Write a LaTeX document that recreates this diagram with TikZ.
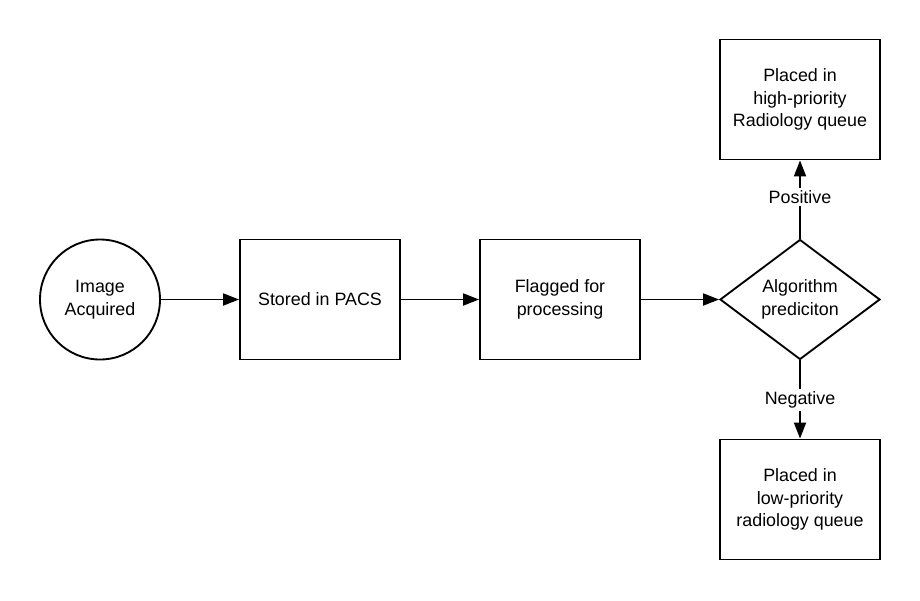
\documentclass[tikz,border=0pt]{standalone}
\usepackage{fontspec}
\setmainfont{Liberation Sans}
\usetikzlibrary{positioning,arrows.meta,shapes.geometric}
\tikzset{
  flowarrow/.style={-{Triangle[length=12pt, width=9pt]}, line width=1.4pt},
  startnode/.style={draw, circle, line width=1.4pt, minimum size=90pt, inner sep=0pt, align=center},
  procnode/.style={draw, line width=1.4pt, minimum width=120pt, minimum height=90pt, inner sep=2pt, align=center},
  decnode/.style={draw, diamond, aspect=1.333, line width=1.4pt, minimum width=120pt, minimum height=90pt, inner sep=0pt, align=center},
  edgelabel/.style={fill=white, inner sep=2pt}
}

\begin{document}
\begin{tikzpicture}[x=0.75pt, y=-0.75pt, every node/.style={font=\fontsize{13.4pt}{16.9pt}\selectfont}]
      \useasboundingbox (0,0) rectangle (920,600);
      \node[startnode] (acq) at (100,299.5) {Image\\Acquired};
      \node[procnode] (pacs) at (320,299.5) {Stored in PACS};
      \node[procnode] (flag) at (560,299.5) {Flagged for\\processing};
      \node[decnode] (algo) at (800,299.5) {Algorithm\\prediciton};
      \node[procnode] (high) at (800,99.5) {Placed in\\high-priority\\Radiology queue};
      \node[procnode] (low) at (800,499.5) {Placed in\\low-priority\\radiology queue};
      \draw[flowarrow] (acq) -- (pacs);
      \draw[flowarrow] (pacs) -- (flag);
      \draw[flowarrow] (flag) -- (algo);
      \draw[flowarrow] (algo) -- node[edgelabel, pos=0.53] {Positive} (high);
      \draw[flowarrow] (algo) -- node[edgelabel, pos=0.5] {Negative} (low);
    \end{tikzpicture}
\end{document}
